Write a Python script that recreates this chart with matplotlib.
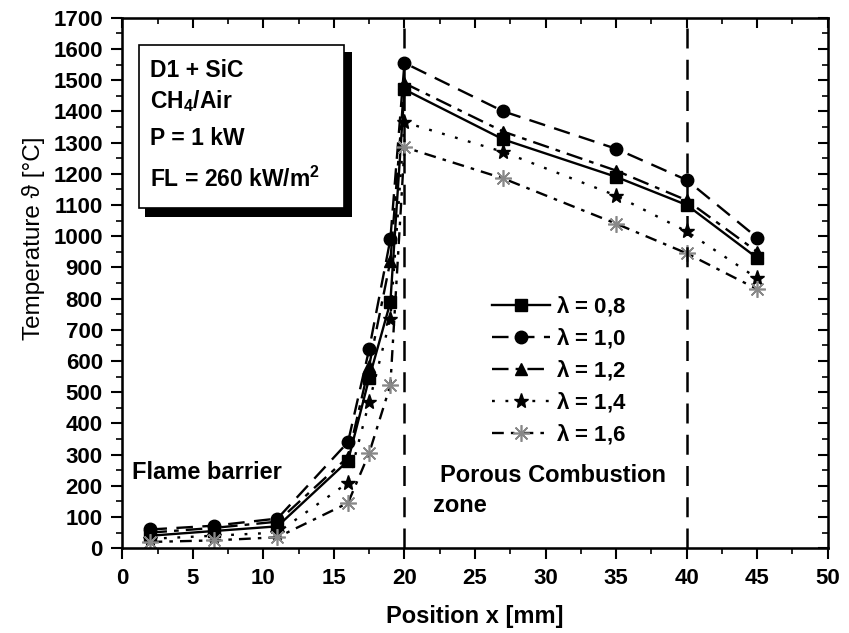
import matplotlib
matplotlib.use("Agg")
import matplotlib.pyplot as plt
from matplotlib.ticker import MultipleLocator
from matplotlib.patches import Rectangle

plt.rcParams['font.family'] = ['Liberation Sans', 'DejaVu Sans']
plt.rcParams['font.weight'] = 'bold'
plt.rcParams['mathtext.fontset'] = 'custom'
plt.rcParams['mathtext.rm'] = 'Liberation Sans:bold'
plt.rcParams['mathtext.it'] = 'Liberation Sans:bold'
plt.rcParams['mathtext.bf'] = 'Liberation Sans:bold'

positions = [2, 6.5, 11, 16, 17.5, 19, 20, 27, 35, 40, 45]
lam_08 = [40, 55, 70, 280, 545, 788, 1470, 1310, 1190, 1100, 930]
lam_10 = [60, 72, 95, 340, 638, 990, 1555, 1400, 1280, 1180, 995]
lam_12 = [50, 65, 85, 292, 585, 920, 1490, 1335, 1210, 1115, 950]
lam_14 = [30, 40, 50, 210, 468, 735, 1365, 1270, 1130, 1015, 865]
lam_16 = [20, 25, 35, 145, 305, 522, 1285, 1185, 1040, 945, 830]
labels = [r"$\lambda$ = 0,8", r"$\lambda$ = 1,0", r"$\lambda$ = 1,2",
          r"$\lambda$ = 1,4", r"$\lambda$ = 1,6"]
zone_bounds = [20, 40]
box_lines = ["D1 + SiC", "CH$_4$/Air", "P = 1 kW", "FL = 260 kW/m$^2$"]

fig = plt.figure(figsize=(8.49, 6.33), dpi=100)
ax = fig.add_axes([0.144, 0.134, 0.831, 0.838])

styles = [
    dict(ls='-', marker='s', ms=8, color='black', mfc='black', mec='black'),
    dict(ls=(0, (7, 4)), marker='o', ms=9, color='black', mfc='black', mec='black'),
    dict(ls=(0, (7, 3, 2, 3)), marker='^', ms=9, color='black', mfc='black', mec='black'),
    dict(ls=(0, (1.2, 4.5)), marker='*', ms=11, color='black', mfc='black', mec='black'),
    dict(ls=(0, (5, 3, 1.5, 3)), marker=(8, 2, 0), ms=12, color='black',
         mfc='#888888', mec='#888888', mew=1.2),
]
series = [lam_08, lam_10, lam_12, lam_14, lam_16]
for ys, st, lab in zip(series, styles, labels):
    ax.plot(positions, ys, lw=1.7, label=lab, **st)

for xb in zone_bounds:
    ax.axvline(xb, color='black', lw=1.8, ls=(0, (8, 4.5)))

ax.set_xlim(0, 50)
ax.set_ylim(0, 1700)
ax.xaxis.set_major_locator(MultipleLocator(5))
ax.xaxis.set_minor_locator(MultipleLocator(2.5))
ax.yaxis.set_major_locator(MultipleLocator(100))
ax.yaxis.set_minor_locator(MultipleLocator(50))
ax.tick_params(which='major', direction='out', length=8, width=1.5, labelsize=16, pad=6)
ax.tick_params(which='minor', direction='out', length=4.5, width=1.2)
for sp in ax.spines.values():
    sp.set_linewidth(1.8)
for t in ax.get_xticklabels() + ax.get_yticklabels():
    t.set_fontweight('bold')

ax2 = ax.twinx()
ax2.set_ylim(0, 1700)
ax2.yaxis.set_major_locator(MultipleLocator(100))
ax2.yaxis.set_minor_locator(MultipleLocator(50))
ax2.tick_params(which='major', direction='in', length=7, width=1.5, labelright=False)
ax2.tick_params(which='minor', direction='in', length=4, width=1.2)

ax3 = ax.twiny()
ax3.set_xlim(0, 50)
ax3.xaxis.set_major_locator(MultipleLocator(5))
ax3.xaxis.set_minor_locator(MultipleLocator(2.5))
ax3.tick_params(which='major', direction='in', length=7, width=1.5, labeltop=False)
ax3.tick_params(which='minor', direction='in', length=4, width=1.2)

ax.set_xlabel("Position x [mm]", fontsize=17, fontweight='bold', labelpad=12)
ax.set_ylabel("Temperature ϑ [°C]", fontsize=17.5, fontweight='normal')
ax.yaxis.set_label_coords(-0.11, 0.585)

ax.text(0.7, 244, "Flame barrier", fontsize=17, fontweight='bold', va='center')
ax.text(22.5, 234, "Porous Combustion", fontsize=17, fontweight='bold', va='center')
ax.text(22.0, 138, "zone", fontsize=17, fontweight='bold', va='center')

# annotation box with shadow
ax.add_patch(Rectangle((1.63, 1061), 14.66, 529, facecolor='black', edgecolor='black',
                       lw=0, zorder=5))
ax.add_patch(Rectangle((1.2, 1090), 14.52, 523, facecolor='white', edgecolor='black',
                       lw=1.2, zorder=6))
box_y = [1511, 1411, 1292, 1158]
for txt, yy in zip(box_lines, box_y):
    ax.text(2.0, yy, txt, fontsize=16.5, fontweight='bold', va='baseline', ha='left', zorder=7)

leg = ax.legend(loc='upper left', bbox_to_anchor=(0.496, 0.516), frameon=False,
                handlelength=2.6, fontsize=16, labelspacing=0.36, handletextpad=0.25)
for txt in leg.get_texts():
    txt.set_fontweight('bold')

fig.savefig("out.png", dpi=100)
